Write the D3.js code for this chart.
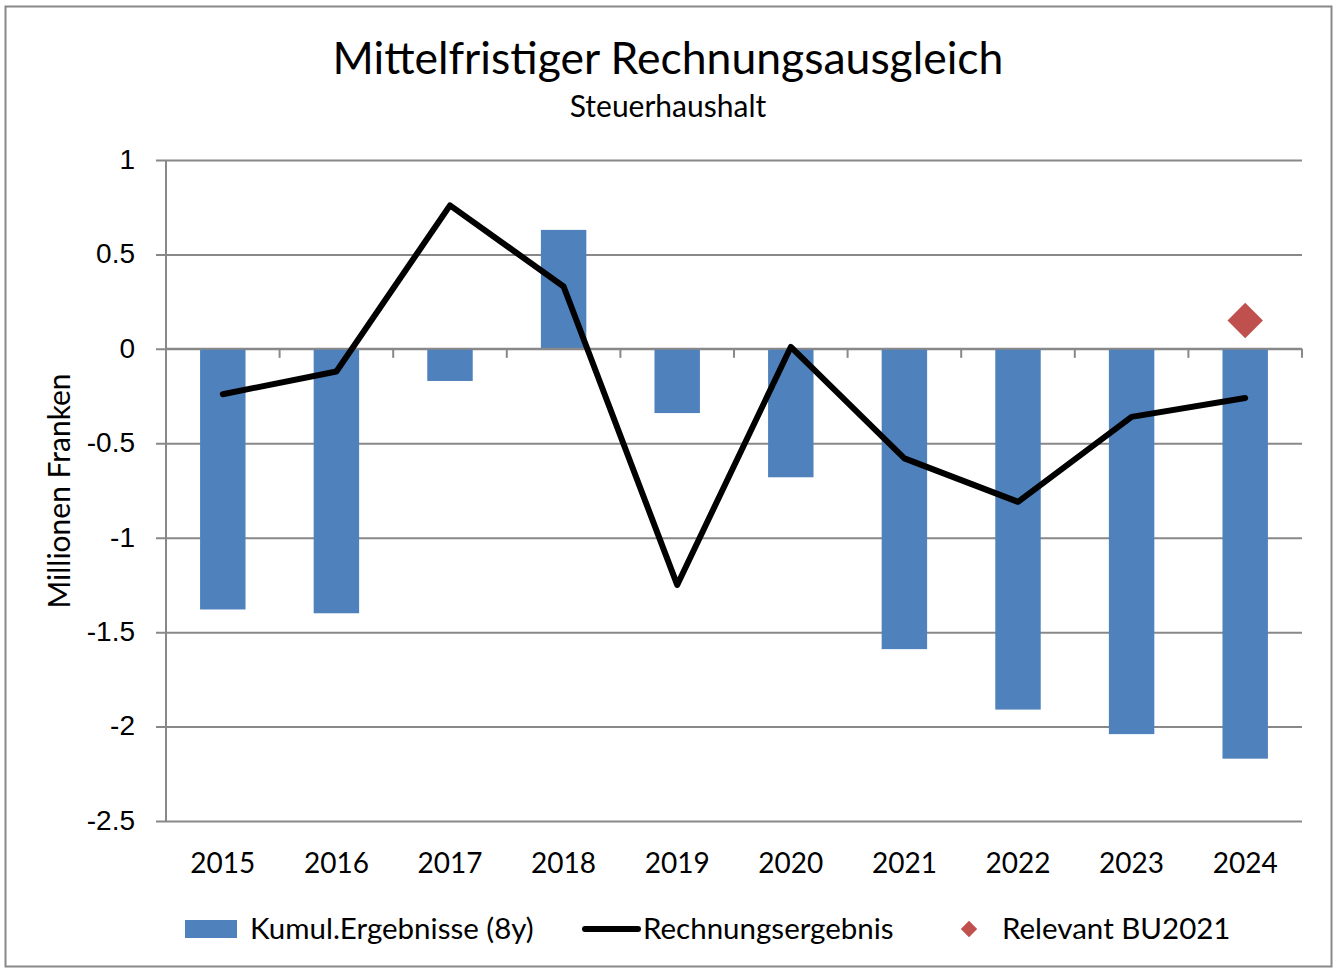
<!DOCTYPE html>
<html>
<head>
<meta charset="utf-8">
<script src="https://cdn.jsdelivr.net/npm/d3@7"></script>
<style>
  body { margin: 0; background: #fff; }
  svg { font-family: Lato, "Open Sans", sans-serif; }
</style>
</head>
<body>
<div id="chart"></div>
<script>
// chart data
var years = ["2015", "2016", "2017", "2018", "2019", "2020", "2021", "2022", "2023", "2024"];
var kumul = [-1.38, -1.40, -0.17, 0.63, -0.34, -0.68, -1.59, -1.91, -2.04, -2.17];
var ergebnis = [-0.24, -0.12, 0.76, 0.33, -1.25, 0.01, -0.58, -0.81, -0.36, -0.26];
var relevantYear = ["2024"];
var relevantValue = [0.15];
var yTicks = [1, 0.5, 0, -0.5, -1, -1.5, -2, -2.5];

var w = 1337;
var h = 969;
var plotLeft = 166, plotRight = 1302, plotTop = 160, plotBottom = 821;

function init()
{
    var svg = d3.select("#chart").append("svg").attr("width", w).attr("height", h);

    // outer frame
    svg.append("rect")
    .attr("x", 5.5).attr("y", 6.5)
    .attr("width", 1326).attr("height", 960)
    .attr("fill", "#fff").attr("stroke", "#888").attr("stroke-width", 2);

    var xScale = d3.scaleBand().domain(years).range([plotLeft, plotRight]).paddingInner(0.6).paddingOuter(0.3);
    var xPoint = function(d) { return xScale(d) + xScale.bandwidth() / 2; };
    var yScale = d3.scaleLinear().domain([-2.5, 1]).range([plotBottom, plotTop]);

    // gridlines + y axis
    var yAxis = d3.axisLeft(yScale).tickValues(yTicks).tickSize(-(plotRight - plotLeft + 10)).tickPadding(20)
        .tickFormat(function(d) { return String(d); });
    var gy = svg.append("g").attr("transform", "translate(" + (plotLeft - 10) + ",0)").call(yAxis);
    gy.select(".domain").remove();
    gy.selectAll(".tick line").attr("stroke", "#888").attr("stroke-width", 2);
    gy.selectAll(".tick text").attr("font-size", 28).attr("fill", "#000").attr("dx", "-1").attr("dy", "0.3em");

    svg.append("line")
    .attr("x1", plotLeft).attr("x2", plotLeft)
    .attr("y1", plotTop).attr("y2", plotBottom)
    .attr("stroke", "#888").attr("stroke-width", 2);

    // bars
    svg.selectAll("rect.bar")
    .data(kumul)
    .enter()
    .append("rect")
    .attr("class", "bar")
    .attr("x", function(d, i) { return xScale(years[i]); })
    .attr("y", function(d) { return yScale(Math.max(0, d)); })
    .attr("width", xScale.bandwidth())
    .attr("height", function(d) { return Math.abs(yScale(d) - yScale(0)); })
    .attr("fill", "#4f81bd");

    // x axis on zero with category ticks
    var boundaries = d3.range(years.length + 1).map(function(i) { return plotLeft + i * (plotRight - plotLeft) / years.length; });
    svg.append("line")
    .attr("x1", plotLeft).attr("x2", plotRight)
    .attr("y1", yScale(0)).attr("y2", yScale(0))
    .attr("stroke", "#888").attr("stroke-width", 2);
    svg.selectAll("line.cat")
    .data(boundaries)
    .enter()
    .append("line")
    .attr("class", "cat")
    .attr("x1", (d) => d).attr("x2", (d) => d)
    .attr("y1", yScale(0)).attr("y2", yScale(0) + 9)
    .attr("stroke", "#888").attr("stroke-width", 2);

    // year labels at the bottom
    svg.selectAll("text.year")
    .data(years)
    .enter()
    .append("text")
    .attr("class", "year")
    .attr("x", (d) => xPoint(d))
    .attr("y", 873)
    .attr("text-anchor", "middle")
    .attr("font-size", 28)
    .text((d) => d);

    // line
    var line = d3.line()
        .x(function(d, i) { return xPoint(years[i]); })
        .y(function(d) { return yScale(d); });
    svg.append("path")
    .datum(ergebnis)
    .attr("d", line)
    .attr("fill", "none")
    .attr("stroke", "#000")
    .attr("stroke-width", 6)
    .attr("stroke-linejoin", "round")
    .attr("stroke-linecap", "round");

    // diamond
    svg.selectAll("path.dia")
    .data(relevantValue)
    .enter()
    .append("path")
    .attr("class", "dia")
    .attr("d", d3.symbol().type(d3.symbolDiamond2).size(800))
    .attr("transform", function(d, i) { return "translate(" + xPoint(relevantYear[i]) + "," + yScale(d) + ")"; })
    .attr("fill", "#c0504d");

    // titles
    svg.append("text").attr("x", 668).attr("y", 74).attr("text-anchor", "middle")
    .attr("font-size", 44.5).text("Mittelfristiger Rechnungsausgleich");
    svg.append("text").attr("x", 668).attr("y", 117).attr("text-anchor", "middle")
    .attr("font-size", 30).text("Steuerhaushalt");
    svg.append("text")
    .attr("transform", "translate(70,491) rotate(-90)")
    .attr("text-anchor", "middle")
    .attr("font-size", 30)
    .text("Millionen Franken");

    // legend
    var lg = svg.append("g");
    lg.append("rect").attr("x", 185).attr("y", 920).attr("width", 52).attr("height", 18).attr("fill", "#4f81bd");
    lg.append("text").attr("x", 250).attr("y", 939).attr("font-size", 29.5).text("Kumul.Ergebnisse (8y)");
    lg.append("line").attr("x1", 585).attr("x2", 638).attr("y1", 929).attr("y2", 929)
    .attr("stroke", "#000").attr("stroke-width", 6).attr("stroke-linecap", "round");
    lg.append("text").attr("x", 643).attr("y", 939).attr("font-size", 29.5).text("Rechnungsergebnis");
    lg.append("path").attr("d", d3.symbol().type(d3.symbolDiamond2).size(170))
    .attr("transform", "translate(969,929)").attr("fill", "#c0504d");
    lg.append("text").attr("x", 1002).attr("y", 939).attr("font-size", 29.5).text("Relevant BU2021");
}

window.onload = init;
</script>
</body>
</html>
